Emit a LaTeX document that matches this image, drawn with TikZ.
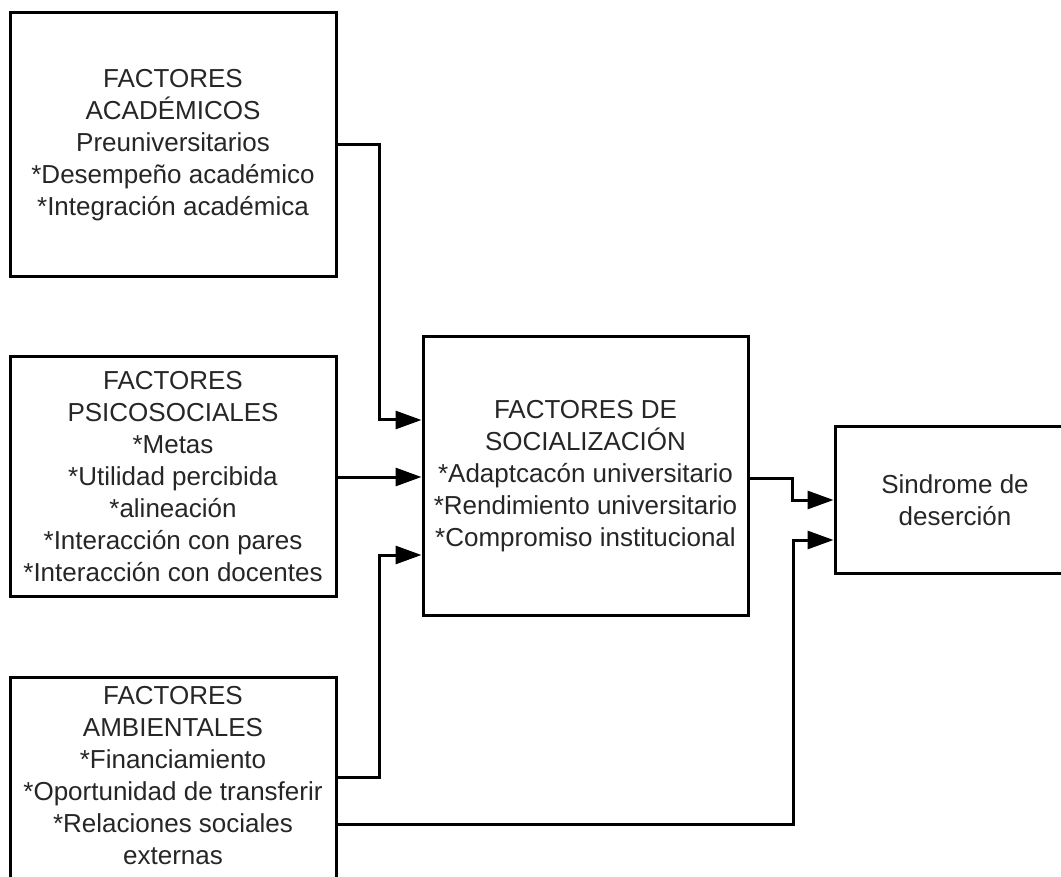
\documentclass[tikz,border=0pt]{standalone}
\usepackage{fontspec}
\setmainfont{Liberation Sans}
\usetikzlibrary{arrows.meta}
\begin{document}
\begin{tikzpicture}[x=1pt,y=-1pt,
  box/.style={draw=black, line width=3pt, inner sep=0pt, align=center,
    font=\fontsize{26}{32}\selectfont, text=black!85},
  txt/.style={inner sep=0pt, align=center, font=\fontsize{26}{32}\selectfont, text=black!85},
  conn/.style={line width=3pt, -{Triangle[length=26pt,width=18pt]}},
  link/.style={line width=3pt}]
\useasboundingbox (0,0) rectangle (1061,877);
\clip (0,0) rectangle (1061,877);
\fill[white] (0,0) rectangle (1061,877);

\node[box, minimum width=326pt, minimum height=264pt] (A) at (173,145)
  {FACTORES\\ACADÉMICOS\\Preuniversitarios\\*Desempeño académico\\*Integración académica};
\node[box, minimum width=326pt, minimum height=239pt] (B) at (173,476.5)
  {FACTORES\\PSICOSOCIALES\\*Metas\\*Utilidad percibida\\*alineación\\*Interacción con pares\\*Interacción con docentes};
\node[box, minimum width=326pt, minimum height=270pt, anchor=north] (C) at (173,676) {};
\node[txt] (Ct) at (173,776)
  {FACTORES\\AMBIENTALES\\*Financiamiento\\*Oportunidad de transferir\\*Relaciones sociales\\externas};
\node[box, minimum width=325pt, minimum height=278pt] (D) at (585.5,476)
  {FACTORES DE\\SOCIALIZACIÓN\\*Adaptcacón universitario\\*Rendimiento universitario\\*Compromiso institucional};
\node[box, minimum width=240pt, minimum height=146pt] (E) at (955,500)
  {Sindrome de\\deserción};

\coordinate (ka) at (379,145);
\coordinate (kc) at (379,777);
\coordinate (kd) at (792,478);
\coordinate (ke) at (793,824);

\draw[conn] (A.east |- ka) -- (ka) |- (D.west |- 0,420);
\draw[conn] (B.east |- 0,477) -- (D.west |- 0,477);
\draw[conn] (C.east |- kc) -- (kc) |- (D.west |- 0,555);
\draw[conn] (D.east |- kd) -- (kd) |- (E.west |- 0,500);
\draw[conn] (C.east |- ke) -- (ke) |- (E.west |- 0,540);
\end{tikzpicture}
\end{document}
